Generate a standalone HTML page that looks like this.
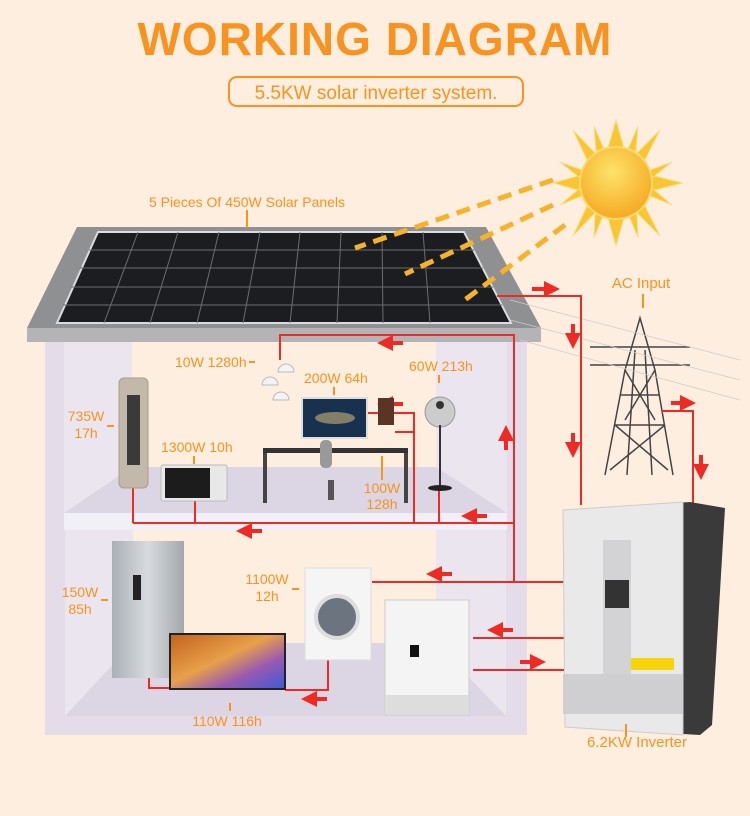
<!DOCTYPE html>
<html><head><meta charset="utf-8"><style>
html,body{margin:0;padding:0;background:#fdeee0;}
svg{display:block}
text{font-family:"Liberation Sans",sans-serif;fill:#f7931e}
</style></head><body>
<svg width="750" height="816" viewBox="0 0 750 816" xmlns="http://www.w3.org/2000/svg">
<defs>
<marker id="a" viewBox="0 0 10 10" refX="5" refY="5" markerWidth="4" markerHeight="4" orient="auto"><path d="M0,0L10,5L0,10z" fill="#ee2a24"/></marker>
<radialGradient id="sun" cx="0.45" cy="0.35" r="0.7"><stop offset="0" stop-color="#fde36a"/><stop offset="1" stop-color="#f5a51e"/></radialGradient>
<linearGradient id="fr" x1="0" x2="1"><stop offset="0" stop-color="#aab0b6"/><stop offset="0.5" stop-color="#d7dbdf"/><stop offset="1" stop-color="#a3a8ad"/></linearGradient>
<linearGradient id="tv" x1="0" y1="0" x2="1" y2="1"><stop offset="0" stop-color="#c4611c"/><stop offset="0.45" stop-color="#e8a04a"/><stop offset="0.7" stop-color="#9a5ab0"/><stop offset="1" stop-color="#3a5ad8"/></linearGradient>
</defs>
<rect width="750" height="816" fill="#fdeee0"/>
<text x="375" y="55" font-size="46" font-weight="bold" text-anchor="middle" letter-spacing="1">WORKING DIAGRAM</text>
<rect x="229" y="77" width="294" height="29" rx="8" fill="none" stroke="#f7931e" stroke-width="2"/>
<text x="376" y="99" font-size="19" text-anchor="middle">5.5KW solar inverter system.</text>

<!-- sun -->
<g fill="#f9c532" stroke="#f7e08a" stroke-width="1">
<polygon points="616,120 608,148 624,148"/><polygon points="616,246 608,218 624,218"/>
<polygon points="553,183 581,175 581,191"/><polygon points="683,183 651,175 651,191"/>
<polygon points="573,130 595,153 587,160"/><polygon points="660,130 637,153 645,160"/>
<polygon points="573,236 595,213 587,206"/><polygon points="660,236 637,213 645,206"/>
<polygon points="594,126 604,149 596,151"/><polygon points="638,126 628,149 636,151"/>
<polygon points="560,162 582,170 580,178"/><polygon points="672,162 650,170 652,178"/>
<polygon points="560,205 582,196 580,188"/><polygon points="594,238 603,216 595,214"/><polygon points="638,238 629,216 637,214"/><polygon points="672,205 650,196 652,188"/>
</g>
<circle cx="616" cy="183" r="36" fill="url(#sun)" stroke="#f9d96a" stroke-width="2"/>

<!-- roof -->
<polygon points="77,227 486,227 541,328 27,328" fill="#8f9092"/>
<rect x="27" y="328" width="514" height="14" fill="#b4b3b6"/>
<polygon points="98,232 464,232 511,323 57,323" fill="#1c1d20" stroke="#d9dde2" stroke-width="2"/>
<g stroke="#6a6d72" stroke-width="1">
<line x1="89" y1="250" x2="474" y2="250"/><line x1="80" y1="268" x2="483" y2="268"/><line x1="71" y1="287" x2="493" y2="287"/><line x1="63" y1="305" x2="502" y2="305"/>
<line x1="138" y1="232" x2="104" y2="323"/><line x1="178" y1="232" x2="150" y2="323"/><line x1="219" y1="232" x2="197" y2="323"/><line x1="260" y1="232" x2="243" y2="323"/><line x1="300" y1="232" x2="290" y2="323"/><line x1="341" y1="232" x2="337" y2="323"/><line x1="382" y1="232" x2="383" y2="323"/><line x1="423" y1="232" x2="430" y2="323"/>
</g>
<line x1="247" y1="210" x2="247" y2="228" stroke="#f7931e" stroke-width="2"/>
<text x="247" y="207" font-size="14" text-anchor="middle">5 Pieces Of 450W Solar Panels</text>
<g stroke="#f7b22a" stroke-width="5" stroke-dasharray="14,8">
<line x1="553" y1="180" x2="355" y2="248"/><line x1="553" y1="205" x2="405" y2="274"/><line x1="565" y1="225" x2="462" y2="302"/>
</g>

<!-- house -->
<rect x="45" y="342" width="482" height="393" fill="#e5dcea"/>
<rect x="64" y="342" width="443" height="171" fill="#ebe5f0"/>
<rect x="132" y="342" width="304" height="125" fill="#fdeee0"/>
<polygon points="132,467 436,467 507,513 64,513" fill="#dcd5e3"/>
<rect x="64" y="513" width="443" height="17" fill="#f2f0f7"/>
<rect x="65" y="530" width="441" height="186" fill="#ebe5f0"/>
<rect x="133" y="530" width="303" height="113" fill="#fdeee0"/>
<polygon points="133,643 436,643 506,716 65,716" fill="#dcd5e3"/>

<!-- tower -->
<g stroke="#444" stroke-width="1.5" fill="none">
<polyline points="605,475 625,370 640,318 655,370 673,475"/>
<line x1="627" y1="475" x2="635" y2="350"/><line x1="652" y1="475" x2="645" y2="350"/>
<line x1="590" y1="347" x2="690" y2="347"/><line x1="590" y1="365" x2="690" y2="365"/>
<path d="M620,395L660,395M615,425L665,425M625,370L655,420M655,370L625,420M615,425L668,470M665,425L610,470"/>
</g>
<g stroke="#ccc" stroke-width="0.8"><line x1="510" y1="300" x2="740" y2="360"/><line x1="510" y1="320" x2="740" y2="380"/><line x1="520" y1="340" x2="740" y2="400"/></g>
<line x1="643" y1="294" x2="643" y2="308" stroke="#f7931e" stroke-width="2"/>
<text x="641" y="288" font-size="15" text-anchor="middle">AC Input</text>

<!-- red wires -->
<g stroke="#ee2a24" stroke-width="2" fill="none">
<polyline points="497,296 581,296 581,505"/>
<polyline points="662,411 693,411 693,505"/>
<polyline points="280,360 280,335 514,335 514,582 565,582"/>
<line x1="133" y1="523" x2="514" y2="523"/>
<line x1="133" y1="488" x2="133" y2="523"/><line x1="195" y1="500" x2="195" y2="523"/>
<polyline points="367,413 414,413 414,523"/><line x1="395" y1="432" x2="414" y2="432"/>
<line x1="439" y1="490" x2="439" y2="523"/>
<line x1="372" y1="582" x2="514" y2="582"/>
<polyline points="149,677 149,688 172,688"/>
<polyline points="285,690 328,690 328,660"/>
<line x1="473" y1="638" x2="565" y2="638"/><line x1="473" y1="670" x2="565" y2="670"/>
</g>
<g stroke="#ee2a24" stroke-width="4" marker-end="url(#a)">
<line x1="532" y1="289" x2="552" y2="289"/><line x1="573" y1="324" x2="573" y2="341"/><line x1="573" y1="433" x2="573" y2="450"/>
<line x1="671" y1="403" x2="688" y2="403"/><line x1="701" y1="455" x2="701" y2="472"/>
<line x1="403" y1="343" x2="385" y2="343"/><line x1="403" y1="404" x2="385" y2="404"/>
<line x1="506" y1="450" x2="506" y2="433"/><line x1="487" y1="516" x2="469" y2="516"/>
<line x1="262" y1="531" x2="244" y2="531"/><line x1="452" y1="574" x2="434" y2="574"/>
<line x1="513" y1="630" x2="495" y2="630"/><line x1="520" y1="662" x2="538" y2="662"/>
<line x1="327" y1="699" x2="309" y2="699"/>
</g>

<!-- appliances upper -->
<rect x="119" y="378" width="29" height="110" rx="5" fill="#c3b9aa" stroke="#a99d8c"/>
<rect x="127" y="395" width="13" height="70" fill="#3a3a3a"/>
<rect x="161" y="465" width="66" height="36" rx="2" fill="#e8e8e8" stroke="#bbb"/>
<rect x="165" y="468" width="45" height="30" fill="#1c1c1c"/>
<rect x="263" y="448" width="145" height="5" fill="#333"/>
<rect x="263" y="453" width="4" height="50" fill="#444"/><rect x="404" y="453" width="4" height="50" fill="#444"/>
<rect x="302" y="398" width="65" height="40" fill="#17314f" stroke="#ddd" stroke-width="2"/>
<ellipse cx="335" cy="418" rx="20" ry="6" fill="#c9b27a" opacity="0.6"/>
<rect x="320" y="440" width="12" height="28" rx="5" fill="#999"/>
<rect x="328" y="480" width="6" height="20" fill="#555"/>
<rect x="378" y="398" width="16" height="27" fill="#5a3525"/>
<circle cx="440" cy="412" r="15" fill="#ccc" stroke="#999"/><circle cx="440" cy="405" r="4" fill="#333"/>
<line x1="440" y1="425" x2="440" y2="485" stroke="#333" stroke-width="2"/><ellipse cx="440" cy="488" rx="12" ry="3" fill="#222"/>
<g fill="#f3f3f3" stroke="#bbb"><path d="M262,385a8,8 0 0 1 16,0z"/><path d="M278,372a8,8 0 0 1 16,0z"/><path d="M273,400a8,8 0 0 1 16,0z"/></g>
<!-- lower -->
<rect x="112" y="541" width="72" height="137" fill="url(#fr)"/>
<rect x="133" y="575" width="8" height="25" fill="#222"/>
<rect x="170" y="634" width="115" height="55" fill="url(#tv)" stroke="#222" stroke-width="2"/>
<rect x="305" y="568" width="66" height="92" fill="#f5f5f5" stroke="#ddd"/>
<circle cx="337" cy="617" r="21" fill="#6c7480" stroke="#ddd" stroke-width="4"/>
<rect x="385" y="600" width="84" height="115" fill="#f4f4f4" stroke="#ccc"/>
<rect x="410" y="645" width="9" height="12" fill="#111"/>
<rect x="385" y="695" width="84" height="20" fill="#ddd"/>
<!-- inverter -->
<polygon points="563,510 690,502 725,508 712,725 700,735 565,727" fill="#3a3a3a"/>
<polygon points="563,510 683,502 683,735 565,727" fill="#e9e9ea" stroke="#ccc"/>
<rect x="603" y="540" width="28" height="140" fill="#d3d3d5"/>
<rect x="605" y="580" width="24" height="28" fill="#333"/>
<rect x="563" y="674" width="120" height="40" fill="#cfcfd1"/>
<rect x="631" y="658" width="43" height="12" fill="#f6d40a"/>
<line x1="626" y1="724" x2="626" y2="737" stroke="#f7931e" stroke-width="2"/>

<!-- labels -->
<g font-size="14">
<text x="175" y="367">10W 1280h</text><line x1="249" y1="362" x2="255" y2="362" stroke="#f7931e" stroke-width="2"/>
<text x="304" y="383">200W 64h</text><line x1="334" y1="387" x2="334" y2="395" stroke="#f7931e" stroke-width="2"/>
<text x="409" y="371">60W 213h</text><line x1="439" y1="375" x2="439" y2="383" stroke="#f7931e" stroke-width="2"/>
<text x="86" y="421" text-anchor="middle">735W</text><text x="86" y="438" text-anchor="middle">17h</text>
<line x1="107" y1="426" x2="114" y2="426" stroke="#f7931e" stroke-width="2"/>
<text x="161" y="452">1300W 10h</text><line x1="194" y1="456" x2="194" y2="464" stroke="#f7931e" stroke-width="2"/>
<text x="382" y="493" text-anchor="middle">100W</text><text x="382" y="509" text-anchor="middle">128h</text>
<line x1="382" y1="456" x2="382" y2="480" stroke="#f7931e" stroke-width="2"/>
<text x="267" y="584" text-anchor="middle">1100W</text><text x="267" y="601" text-anchor="middle">12h</text>
<line x1="292" y1="589" x2="299" y2="589" stroke="#f7931e" stroke-width="2"/>
<text x="80" y="597" text-anchor="middle">150W</text><text x="80" y="614" text-anchor="middle">85h</text>
<line x1="101" y1="600" x2="108" y2="600" stroke="#f7931e" stroke-width="2"/>
<text x="227" y="726" text-anchor="middle">110W 116h</text><line x1="230" y1="703" x2="230" y2="711" stroke="#f7931e" stroke-width="2"/>
<text x="637" y="747" text-anchor="middle" font-size="15">6.2KW Inverter</text>
</g>
</svg>
</body></html>
